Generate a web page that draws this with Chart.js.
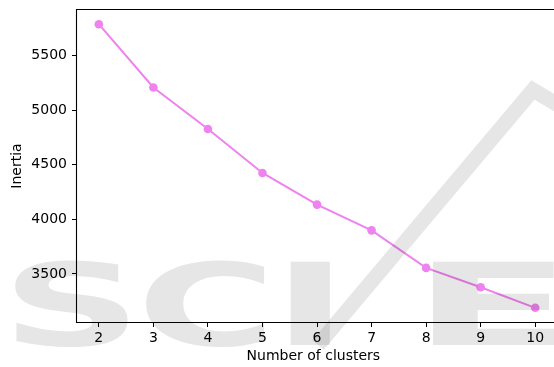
<!DOCTYPE html>
<html>
<head>
<meta charset="utf-8">
<script src="https://cdn.jsdelivr.net/npm/chart.js@4"></script>
<style>
  html, body { margin: 0; padding: 0; overflow: hidden; background: #fff; }
  #wrap { width: 554px; height: 367px; }
</style>
</head>
<body>
<div id="wrap"><canvas id="c" width="554" height="367"></canvas></div>
<script>
// Elbow curve: k-means inertia for each number of clusters
const clusters = [2, 3, 4, 5, 6, 7, 8, 9, 10];
const inertia  = [5789, 5209, 4828, 4425, 4135, 3899, 3555, 3377, 3189];
const xTicks   = [2, 3, 4, 5, 6, 7, 8, 9, 10];
const yTicks   = [3500, 4000, 4500, 5000, 5500];

const FONT = "'DejaVu Sans', sans-serif";
const points = clusters.map((k, i) => ({ x: k, y: inertia[i] }));

// axes spines: left, top and bottom, carried on to the canvas edge
const frame = {
  id: 'frame',
  afterDatasetsDraw(chart) {
    const { ctx, chartArea: a } = chart;
    const l = Math.round(a.left) - 0.5, t = Math.round(a.top) - 0.5, b = Math.round(a.bottom) + 0.5;
    ctx.save();
    ctx.strokeStyle = '#000';
    ctx.lineWidth = 1.1;
    ctx.beginPath();
    ctx.moveTo(chart.width + 1, t);
    ctx.lineTo(l, t);
    ctx.lineTo(l, b);
    ctx.lineTo(chart.width + 1, b);
    ctx.stroke();
    ctx.restore();
  }
};

// faint publisher mark laid over the figure
const mark = {
  id: 'mark',
  afterDraw(chart) {
    const ctx = chart.ctx;
    ctx.save();
    ctx.globalCompositeOperation = 'multiply';
    ctx.fillStyle = '#e6e6e6';
    ctx.strokeStyle = '#e6e6e6';
    ctx.font = "bold 114px " + FONT;
    ctx.textBaseline = 'alphabetic';
    const letters = [['S', 15, 113], ['C', 145, 120], ['I', 290, 40], ['E', 432, 125]];
    for (const [ch, x, w] of letters) {
      const m = ctx.measureText(ch);
      const inkW = m.actualBoundingBoxRight + m.actualBoundingBoxLeft;
      ctx.save();
      ctx.translate(x, 345);
      ctx.scale(w / inkW, 1);
      ctx.fillText(ch, m.actualBoundingBoxLeft, 0);
      ctx.restore();
    }
    ctx.lineWidth = 15;
    ctx.lineJoin = 'miter';
    ctx.beginPath();
    ctx.moveTo(318, 345);
    ctx.lineTo(533, 90);
    ctx.lineTo(570, 112);
    ctx.stroke();
    ctx.restore();
  }
};

new Chart(document.getElementById('c'), {
  type: 'line',
  data: {
    datasets: [{
      data: points,
      borderColor: 'violet',
      backgroundColor: 'violet',
      borderWidth: 2,
      pointRadius: 4.3,
      pointHoverRadius: 4.3,
      pointBorderWidth: 0,
      tension: 0
    }]
  },
  options: {
    responsive: false,
    animation: false,
    events: [],
    layout: { padding: { top: 10, right: 0, left: 0, bottom: 0 } },
    plugins: { legend: { display: false }, tooltip: { enabled: false } },
    scales: {
      x: {
        type: 'linear',
        min: 1.6,
        max: 10.265,
        afterBuildTicks(s) { s.ticks = xTicks.map(v => ({ value: v })); },
        afterFit(s) { s.height = 45; s.paddingLeft = 0; s.paddingRight = 0; },
        grid: { drawOnChartArea: false, drawTicks: true, tickLength: 5, color: '#000', lineWidth: 1 },
        border: { display: false },
        ticks: { color: '#000', padding: 3, font: { family: FONT, size: 14 }, maxRotation: 0,
                 callback: v => String(v) },
        title: { display: true, text: 'Number of clusters', color: '#000',
                 font: { family: FONT, size: 14 }, padding: { top: 0, bottom: 2 } }
      },
      y: {
        type: 'linear',
        min: 3059,
        max: 5919,
        afterBuildTicks(s) { s.ticks = yTicks.map(v => ({ value: v })); },
        afterFit(s) { s.width = 77; s.paddingTop = 0; s.paddingBottom = 0; },
        grid: { drawOnChartArea: false, drawTicks: true, tickLength: 5, color: '#000', lineWidth: 1 },
        border: { display: false },
        ticks: { color: '#000', padding: 5, font: { family: FONT, size: 14 },
                 callback: v => String(v) },
        title: { display: true, text: 'Inertia', color: '#000',
                 font: { family: FONT, size: 14 }, padding: { top: 9, bottom: 0 } }
      }
    }
  },
  plugins: [frame, mark]
});
</script>
</body>
</html>
